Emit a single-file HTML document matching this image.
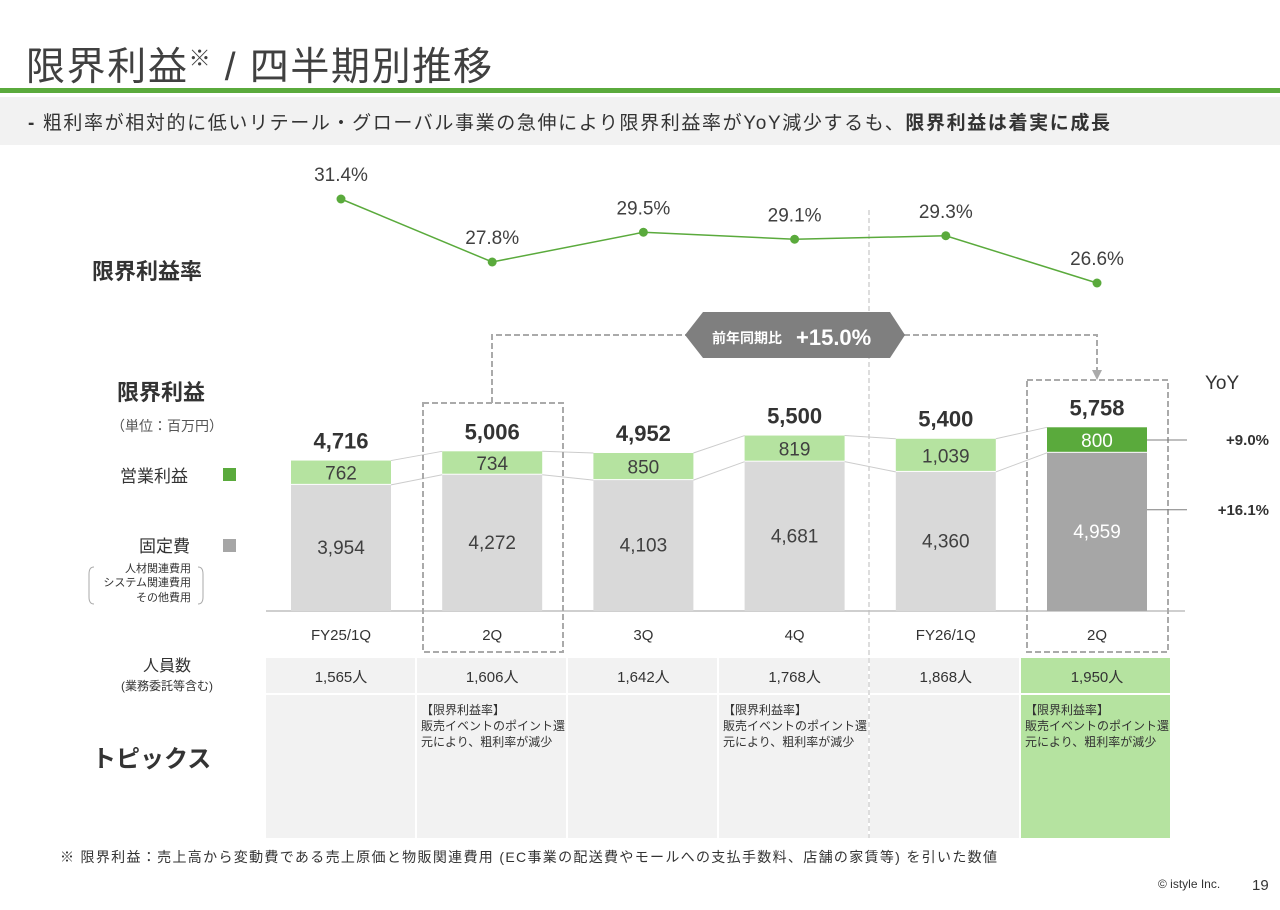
<!DOCTYPE html>
<html><head><meta charset="utf-8">
<style>
body{margin:0;width:1280px;height:905px;background:#fff;overflow:hidden;font-family:"Liberation Sans","Noto Sans CJK JP",sans-serif;color:#333;}
svg text{font-family:"Liberation Sans","Noto Sans CJK JP",sans-serif;}
</style></head>
<body>
<svg width="1280" height="905" viewBox="0 0 1280 905">
  <text x="26" y="80" font-size="39" fill="#404040" textLength="466" lengthAdjust="spacing">限界利益<tspan font-size="22" dy="-14">※</tspan><tspan dy="14"> / 四半期別推移</tspan></text>
  <rect x="0" y="88" width="1280" height="5" fill="#5aaa3c"/>
  <rect x="0" y="97" width="1280" height="48" fill="#f2f2f2"/>
  <text x="28" y="129" font-size="19" fill="#333" textLength="1082" lengthAdjust="spacing"><tspan font-weight="bold">-</tspan>  粗利率が相対的に低いリテール・グローバル事業の急伸により限界利益率がYoY減少するも、<tspan font-weight="bold">限界利益は着実に成長</tspan></text>

  <text x="92" y="279" font-size="22" font-weight="bold" fill="#333">限界利益率</text>
  <text x="117" y="400" font-size="22" font-weight="bold" fill="#333">限界利益</text>
  <text x="111" y="431" font-size="14" fill="#555">（単位：百万円）</text>
  <text x="120" y="482" font-size="17" fill="#333">営業利益</text>
  <rect x="223" y="468" width="13" height="13" fill="#5aaa3c"/>
  <text x="139" y="552" font-size="17" fill="#333">固定費</text>
  <rect x="223" y="539" width="13" height="13" fill="#a6a6a6"/>
  <g font-size="11" fill="#333" text-anchor="end">
    <text x="191" y="572">人材関連費用</text><text x="191" y="586">システム関連費用</text><text x="191" y="601">その他費用</text>
  </g>
  <path d="M94,567 Q89,567 89,574 L89,597 Q89,604 94,604" fill="none" stroke="#aaa"/>
  <path d="M198,567 Q203,567 203,574 L203,597 Q203,604 198,604" fill="none" stroke="#aaa"/>
  <text x="167" y="671" font-size="16" fill="#333" text-anchor="middle">人員数</text>
  <text x="167" y="690" font-size="12" fill="#333" text-anchor="middle">(業務委託等含む)</text>
  <text x="92" y="767" font-size="24" font-weight="bold" fill="#333">トピックス</text>

  <g id="chart"></g>

  <text x="60" y="862" font-size="14" fill="#333" textLength="937" lengthAdjust="spacing">※ 限界利益：売上高から変動費である売上原価と物販関連費用 (EC事業の配送費やモールへの支払手数料、店舗の家賃等) を引いた数値</text>
  <text x="1158" y="888" font-size="12" fill="#333">© istyle Inc.</text>
  <text x="1252" y="890" font-size="15" fill="#333">19</text>
</svg>
<script>
const categories=["FY25/1Q","2Q","3Q","4Q","FY26/1Q","2Q"];
const marginRate=[31.4,27.8,29.5,29.1,29.3,26.6];
const fixedCost=[3954,4272,4103,4681,4360,4959];
const opProfit=[762,734,850,819,1039,800];
const totals=[4716,5006,4952,5500,5400,5758];
const headcount=["1,565人","1,606人","1,642人","1,768人","1,868人","1,950人"];
const topics=[[],["【限界利益率】","販売イベントのポイント還","元により、粗利率が減少"],[],["【限界利益率】","販売イベントのポイント還","元により、粗利率が減少"],[],["【限界利益率】","販売イベントのポイント還","元により、粗利率が減少"]];
const yoyLabels=["+9.0%","+16.1%"];

const NS="http://www.w3.org/2000/svg";
const g=document.getElementById('chart');
function mk(tag,attrs,text){const e=document.createElementNS(NS,tag);for(const k in attrs)e.setAttribute(k,attrs[k]);if(text!==undefined)e.textContent=text;g.appendChild(e);return e;}
const xC=i=>341+i*151.2;
const yV=v=>611-v*0.0319;
const yR=r=>199+(31.4-r)*17.5;
const BW=100;

for(let i=0;i<6;i++){
  const x=266+i*151;
  const last=i===5;
  let c=mk('rect',{x:x,y:658,width:149,height:35,fill:last?'#b5e3a0':'#f2f2f2'});
  
  
  let t=mk('text',{x:xC(i),y:682,'font-size':15,'text-anchor':'middle',fill:'#333'},headcount[i]);
  
  
  let c2=mk('rect',{x:x,y:695,width:149,height:143,fill:last?'#b5e3a0':'#f2f2f2'});
  
  
  topics[i].forEach((ln,j)=>{
    let tt=mk('text',{x:x+4,y:714+j*16,'font-size':12,fill:'#333'},ln);
    
    
  });
}
let dv=mk('line',{x1:869,y1:210,x2:869,y2:838,stroke:'#bbb','stroke-dasharray':'5,3'});



let bl=mk('line',{x1:266,y1:611,x2:1185,y2:611,stroke:'#bfbfbf','stroke-width':1.5});



for(let i=0;i<5;i++){
  const a=xC(i)+BW/2,b=xC(i+1)-BW/2;
  let l1=mk('line',{x1:a,y1:yV(totals[i]),x2:b,y2:yV(totals[i+1]),stroke:'#ccc'});
  
  
  let l2=mk('line',{x1:a,y1:yV(fixedCost[i]),x2:b,y2:yV(fixedCost[i+1]),stroke:'#ccc'});
  
  
}
for(let i=0;i<6;i++){
  const last=i===5,x=xC(i)-BW/2;
  let f=mk('rect',{x:x,y:yV(fixedCost[i]),width:BW,height:611-yV(fixedCost[i]),fill:last?'#a6a6a6':'#d9d9d9'});
  
  
  let o=mk('rect',{x:x,y:yV(fixedCost[i]+opProfit[i]),width:BW,height:yV(fixedCost[i])-yV(fixedCost[i]+opProfit[i])-1,fill:last?'#5aaa3c':'#b5e3a0'});
  
  
  let ft=mk('text',{x:xC(i),y:(yV(fixedCost[i])+611)/2+6,'font-size':19,'text-anchor':'middle',fill:last?'#fff':'#404040'},fixedCost[i].toLocaleString('en-US'));
  
  
  let ot=mk('text',{x:xC(i),y:(yV(fixedCost[i])+yV(totals[i]))/2+7,'font-size':19,'text-anchor':'middle',fill:last?'#fff':'#404040'},opProfit[i].toLocaleString('en-US'));
  
  
  let tt=mk('text',{x:xC(i),y:yV(totals[i])-12,'font-size':22,'font-weight':'bold','text-anchor':'middle',fill:'#333'},totals[i].toLocaleString('en-US'));
  
  
  let ct=mk('text',{x:xC(i),y:640,'font-size':15,'text-anchor':'middle',fill:'#333'},categories[i]);
  
  
}
let hb1=mk('rect',{x:423,y:403,width:140,height:249,fill:'none',stroke:'#aaa','stroke-width':2,'stroke-dasharray':'6,3'});


let hb2=mk('rect',{x:1027,y:380,width:141,height:272,fill:'none',stroke:'#aaa','stroke-width':2,'stroke-dasharray':'6,3'});


let cp=mk('path',{d:'M492,403 L492,335 L686,335 M904,335 L1097,335 L1097,372',fill:'none',stroke:'#aaa','stroke-width':2,'stroke-dasharray':'6,3'});


let ar=mk('path',{d:'M1092,370 L1102,370 L1097,380 Z',fill:'#aaa'});


let hx=mk('path',{d:'M685,335 L703,312 L890,312 L905,335 L890,358 L703,358 Z',fill:'#7f7f7f'});


let ht=mk('text',{x:712,y:343,'font-size':14,'font-weight':'bold',fill:'#fff'},'前年同期比');


let hv=mk('text',{x:796,y:345,'font-size':22,'font-weight':'bold',fill:'#fff'},'+15.0%');



let yy=mk('text',{x:1205,y:389,'font-size':19,fill:'#333'},'YoY');


[[yV(fixedCost[5]+opProfit[5]/2),0],[yV(fixedCost[5]*0.64),1]].forEach(([y,k])=>{
  let l=mk('line',{x1:1147,y1:y,x2:1187,y2:y,stroke:'#7f7f7f'});
  
  
  let t=mk('text',{x:1269,y:y+5,'font-size':15,'font-weight':'bold','text-anchor':'end',fill:'#333'},yoyLabels[k]);
  
  
});

let pts=marginRate.map((r,i)=>xC(i)+','+yR(r)).join(' ');
let pl=mk('polyline',{points:pts,fill:'none',stroke:'#5aaa3c','stroke-width':1.5});


marginRate.forEach((r,i)=>{
  let c=mk('circle',{cx:xC(i),cy:yR(r),r:4.5,fill:'#5aaa3c'});
  
  
  let t=mk('text',{x:xC(i),y:yR(r)-18,'font-size':19,'text-anchor':'middle',fill:'#404040'},r.toFixed(1)+'%');
  
  
});
</script>
</body></html>
